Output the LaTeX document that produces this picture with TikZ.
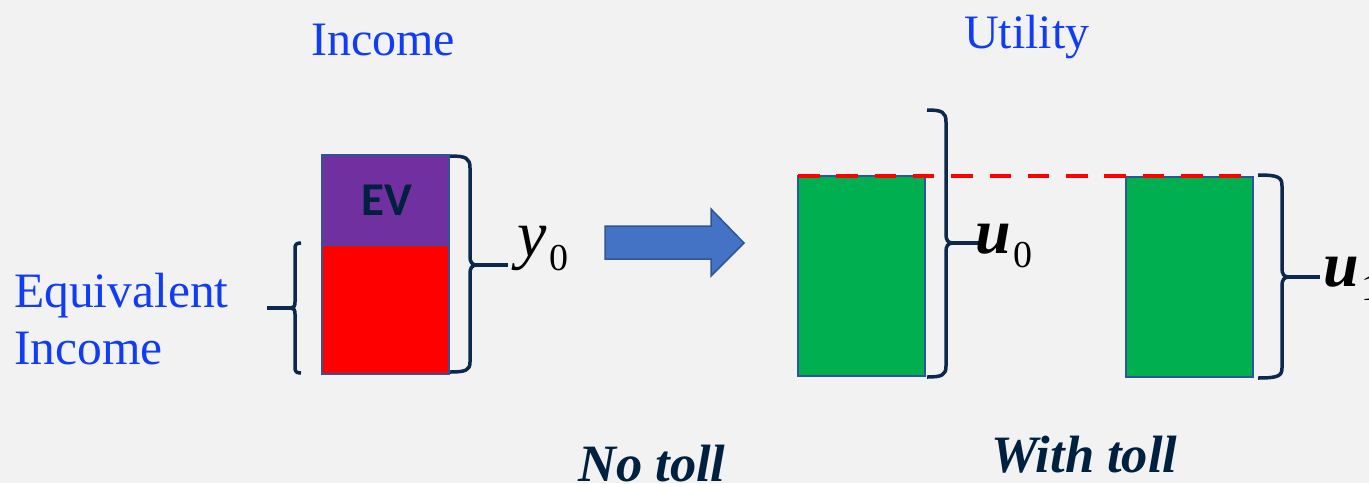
\RequirePackage{fix-cm}
\documentclass[tikz,border=0pt]{standalone}
\usepackage{fontspec}
\setmainfont{Liberation Serif}
\newfontfamily\evfont{Carlito}
\definecolor{bgcol}{RGB}{242,242,242}
\definecolor{bluetxt}{RGB}{16,60,245}
\definecolor{navy}{RGB}{0,32,64}
\definecolor{bracecol}{RGB}{12,40,78}
\definecolor{evpurple}{RGB}{112,48,160}
\definecolor{barred}{RGB}{255,0,0}
\definecolor{bargreen}{RGB}{0,176,80}
\definecolor{barline}{RGB}{47,85,151}
\definecolor{arrowfill}{RGB}{68,114,196}
\newcommand\subz[1]{\raisebox{-14pt}{\upshape\mdseries\fontsize{38}{38}\selectfont #1}}
\begin{document}
\begin{tikzpicture}[x=1pt,y=-1pt,
  bluetext/.style={text=bluetxt,inner sep=0pt,font=\fontsize{48}{57}\selectfont},
  bottomtext/.style={text=navy,inner sep=0pt,font=\bfseries\itshape\fontsize{52.5}{52}\selectfont},
  mathlabel/.style={text=black,inner sep=0pt},
  bracestyle/.style={draw=bracecol,line width=3.5pt,line cap=butt,line join=round},
  barstyle/.style={draw=barline,line width=1.5pt},
  dashline/.style={draw=barred,line width=4pt,dash pattern=on 21.5pt off 16.8pt}]
\useasboundingbox (0,0) rectangle (1369,483);
\fill[bgcol] (0,0) rectangle (1369,483);
\clip (0,0) rectangle (1369,483);

% titles
\node[bluetext,anchor=base west] (income) at (311,55) {Income};
\node[bluetext,anchor=base west] (utility) at (964,48) {Utility};
\node[bluetext,anchor=base west,font=\fontsize{49.5}{57}\selectfont] (equiv) at (14,307) {Equivalent};
\node[bluetext,anchor=base west,font=\fontsize{49.5}{57}\selectfont] (equivinc) at (14,364) {Income};

% income bar
\fill[evpurple] (322,155) rectangle (449,245);
\fill[barred] (322,245) rectangle (449,374);
\draw[barstyle] (322,155) rectangle (449,374);
\draw[barline,line width=1pt] (322,245) -- (449,245);
\node[text=navy,inner sep=0pt,font=\evfont\bfseries\fontsize{47}{47}\selectfont] (ev) at (387,200) {EV};

% y0 brace
\coordinate (ytip) at (508,265);
\draw[bracestyle] (450,156) .. controls (466,156) and (470,158) .. (470,168) -- (470,257)
  .. controls (470,262) and (472,265) .. (477,265)
  .. controls (472,265) and (470,268) .. (470,273) -- (470,362)
  .. controls (470,370) and (466,372) .. (450,372);
\draw[bracestyle] (476,265) -- (ytip);
\node[mathlabel,anchor=base west,font=\itshape\fontsize{66}{66}\selectfont] (y0) at (517,256) {y\kern3pt\subz{0}};

% equivalent income brace
\coordinate (etip) at (267,308);
\draw[bracestyle] (301,243) .. controls (297,243) and (295,244) .. (295,248) -- (295,302)
  .. controls (295,306) and (294,308) .. (291,308)
  .. controls (294,308) and (295,310) .. (295,314) -- (295,368)
  .. controls (295,372) and (297,373) .. (301,373);
\draw[bracestyle] (292,308) -- (etip);

% arrow
\draw[fill=arrowfill,draw=barline,line width=1.5pt,line join=miter]
  (605,226) -- (711,226) -- (711,209) -- (744,243) -- (711,276) -- (711,259) -- (605,259) -- cycle;

% green bars
\fill[bargreen] (798,176) rectangle (925,376);
\draw[barstyle] (798,176) rectangle (925,376);
\fill[bargreen] (1126,177) rectangle (1253,377);
\draw[barstyle] (1126,177) rectangle (1253,377);

% dashed line
\coordinate (dashA) at (798,176);
\coordinate (dashB) at (1244,176);
\draw[dashline] (dashA) -- (dashB);

% u0 brace
\coordinate (u0tip) at (980,243);
\draw[bracestyle] (927,110) .. controls (942,110) and (946,112) .. (946,122) -- (946,235)
  .. controls (946,240) and (948,243) .. (953,243)
  .. controls (948,243) and (946,246) .. (946,251) -- (946,366)
  .. controls (946,375) and (942,377) .. (927,377);
\draw[bracestyle] (952,243) -- (u0tip);
\node[mathlabel,anchor=base west,font=\bfseries\itshape\fontsize{64}{64}\selectfont] (u0) at (975,253) {u\kern3pt\subz{0}};

% u1 brace
\coordinate (u1tip) at (1320,277);
\draw[bracestyle] (1258,175) .. controls (1278,175) and (1282,177) .. (1282,186) -- (1282,269)
  .. controls (1282,274) and (1284,277) .. (1289,277)
  .. controls (1284,277) and (1282,280) .. (1282,285) -- (1282,368)
  .. controls (1282,376) and (1278,378) .. (1258,378);
\draw[bracestyle] (1288,277) -- (u1tip);
\node[mathlabel,anchor=base west,font=\bfseries\itshape\fontsize{64}{64}\selectfont] (u1) at (1323,286) {u\kern3pt\subz{1}};

% bottom labels
\node[bottomtext,anchor=base west] (notoll) at (578,481) {No toll};
\node[bottomtext,anchor=base west] (withtoll) at (991,472) {With toll};
\end{tikzpicture}
\end{document}
